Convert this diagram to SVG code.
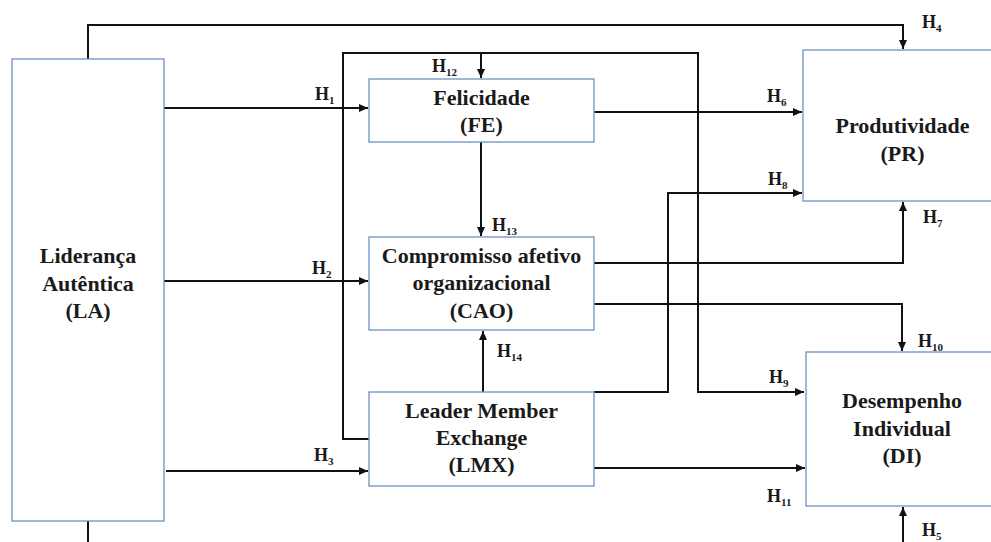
<svg xmlns="http://www.w3.org/2000/svg" width="991" height="542" viewBox="0 0 991 542">
  <style>
    .box { fill: #ffffff; stroke: #6e92c2; stroke-width: 1.3; }
    text { font-family: 'Liberation Serif', 'DejaVu Serif', serif; font-weight: 700; fill: #1a1a1a; }
    .lbl { font-size: 22px; text-anchor: middle; }
    .h { font-size: 18px; }
    .sub { font-size: 11px; }
    .wire { fill: none; stroke: #111111; stroke-width: 2; }
  </style>
  <defs>
    <marker id="arrow" markerUnits="userSpaceOnUse" markerWidth="10" markerHeight="8" refX="9" refY="4" orient="auto">
      <path d="M0,0 L9,4 L0,8 z" fill="#111111"/>
    </marker>
  </defs>

  <rect width="991" height="542" fill="#ffffff"/>

  <!-- connectors -->
  <g id="connectors">
    <path class="wire" d="M88,59 V25 H903 V49" marker-end="url(#arrow)"/>
    <path class="wire" d="M88,521 V545"/>
    <path class="wire" d="M903,545 V507" marker-end="url(#arrow)"/>
    <path class="wire" d="M369,439 H343 V53 H698 V392 H804" marker-end="url(#arrow)"/>
    <path class="wire" d="M481,53 V78" marker-end="url(#arrow)"/>
    <path class="wire" d="M164,108 H368" marker-end="url(#arrow)"/>
    <path class="wire" d="M164,281 H368" marker-end="url(#arrow)"/>
    <path class="wire" d="M166,471 H368" marker-end="url(#arrow)"/>
    <path class="wire" d="M481,142 V236" marker-end="url(#arrow)"/>
    <path class="wire" d="M483,392 V331" marker-end="url(#arrow)"/>
    <path class="wire" d="M594,392 H668 V193 H802" marker-end="url(#arrow)"/>
    <path class="wire" d="M594,112 H802" marker-end="url(#arrow)"/>
    <path class="wire" d="M594,263 H903 V202" marker-end="url(#arrow)"/>
    <path class="wire" d="M594,304 H902 V351" marker-end="url(#arrow)"/>
    <path class="wire" d="M594,468 H805" marker-end="url(#arrow)"/>
  </g>

  <!-- hypothesis labels -->
  <g id="hypotheses">
    <text class="h" x="315" y="100">H<tspan class="sub" dy="4">1</tspan></text>
    <text class="h" x="312" y="274">H<tspan class="sub" dy="4">2</tspan></text>
    <text class="h" x="314" y="461">H<tspan class="sub" dy="4">3</tspan></text>
    <text class="h" x="922" y="28">H<tspan class="sub" dy="4">4</tspan></text>
    <text class="h" x="922" y="536">H<tspan class="sub" dy="4">5</tspan></text>
    <text class="h" x="767" y="102">H<tspan class="sub" dy="4">6</tspan></text>
    <text class="h" x="923" y="223">H<tspan class="sub" dy="4">7</tspan></text>
    <text class="h" x="768" y="185">H<tspan class="sub" dy="4">8</tspan></text>
    <text class="h" x="769" y="383">H<tspan class="sub" dy="4">9</tspan></text>
    <text class="h" x="918" y="347">H<tspan class="sub" dy="4">10</tspan></text>
    <text class="h" x="767" y="502">H<tspan class="sub" dy="4">11</tspan></text>
    <text class="h" x="432" y="72">H<tspan class="sub" dy="4">12</tspan></text>
    <text class="h" x="492" y="231">H<tspan class="sub" dy="4">13</tspan></text>
    <text class="h" x="497" y="357">H<tspan class="sub" dy="4">14</tspan></text>
  </g>

  <!-- nodes -->
  <g id="node-la">
    <rect class="box" x="12" y="59" width="152" height="462"/>
    <text class="lbl" x="88" y="263">Liderança</text>
    <text class="lbl" x="88" y="291">Autêntica</text>
    <text class="lbl" x="88" y="318">(LA)</text>
  </g>
  <g id="node-fe">
    <rect class="box" x="369" y="79" width="225" height="63"/>
    <text class="lbl" x="481.5" y="105">Felicidade</text>
    <text class="lbl" x="481.5" y="132">(FE)</text>
  </g>
  <g id="node-cao">
    <rect class="box" x="369" y="237" width="225" height="93"/>
    <text class="lbl" x="481.5" y="263">Compromisso afetivo</text>
    <text class="lbl" x="481.5" y="290">organizacional</text>
    <text class="lbl" x="481.5" y="318">(CAO)</text>
  </g>
  <g id="node-lmx">
    <rect class="box" x="369" y="392" width="225" height="94"/>
    <text class="lbl" x="481.5" y="418">Leader Member</text>
    <text class="lbl" x="481.5" y="445">Exchange</text>
    <text class="lbl" x="481.5" y="472">(LMX)</text>
  </g>
  <g id="node-pr">
    <rect class="box" x="803" y="50" width="200" height="151"/>
    <text class="lbl" x="902.5" y="133">Produtividade</text>
    <text class="lbl" x="902.5" y="161">(PR)</text>
  </g>
  <g id="node-di">
    <rect class="box" x="806" y="352" width="200" height="154"/>
    <text class="lbl" x="902" y="408">Desempenho</text>
    <text class="lbl" x="902" y="436">Individual</text>
    <text class="lbl" x="902" y="463">(DI)</text>
  </g>
</svg>
